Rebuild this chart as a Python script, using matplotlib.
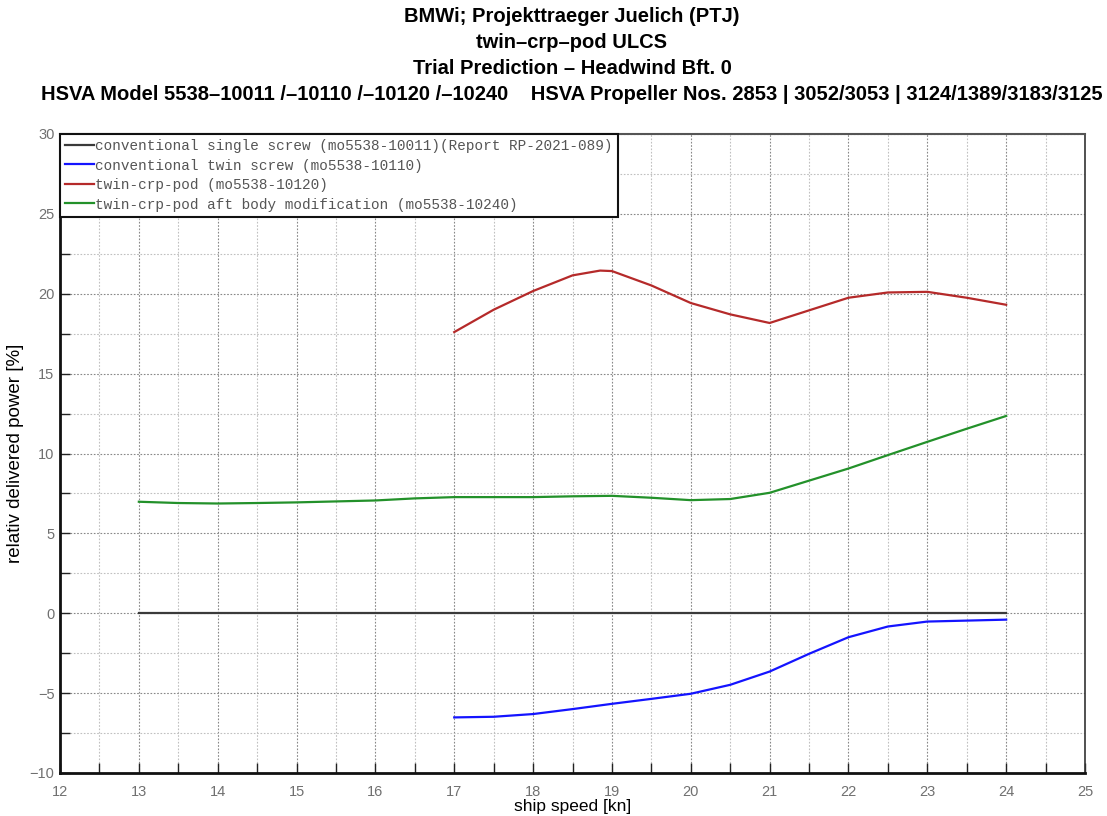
import numpy as np
import matplotlib
matplotlib.use("Agg")
import matplotlib.pyplot as plt
from matplotlib.ticker import MultipleLocator

# half-knot steps
speed_single = [13, 14, 15, 16, 17, 18, 19, 20, 21, 22, 23, 24]
power_single = [0, 0, 0, 0, 0, 0, 0, 0, 0, 0, 0, 0]

speed_twin = [17, 17.5, 18, 18.5, 19, 19.5, 20, 20.5, 21, 21.5, 22, 22.5, 23, 23.5, 24]
power_twin = [-6.52, -6.48, -6.31, -6.0, -5.67, -5.36, -5.04, -4.48, -3.65, -2.54,
              -1.5, -0.83, -0.52, -0.46, -0.4]

speed_pod = [17, 17.5, 18, 18.5, 18.85, 19, 19.5, 20, 20.5, 21, 21.5, 22, 22.5, 23, 23.5, 24]
power_pod = [17.6, 19.0, 20.17, 21.15, 21.45, 21.42, 20.52, 19.42, 18.71, 18.17,
             18.96, 19.75, 20.08, 20.12, 19.75, 19.31]

speed_aft = [13, 13.5, 14, 14.5, 15, 15.5, 16, 16.5, 17, 17.5, 18, 18.5, 19, 19.5,
             20, 20.5, 21, 21.5, 22, 22.5, 23, 23.5, 24]
power_aft = [6.98, 6.9, 6.87, 6.9, 6.94, 7.0, 7.06, 7.19, 7.27, 7.27, 7.27, 7.32, 7.35,
             7.23, 7.08, 7.15, 7.54, 8.3, 9.06, 9.9, 10.73, 11.55, 12.35]

labels = [
    "conventional single screw (mo5538-10011)(Report RP-2021-089)",
    "conventional twin screw (mo5538-10110)",
    "twin-crp-pod (mo5538-10120)",
    "twin-crp-pod aft body modification (mo5538-10240)",
]

title_lines = [
    "BMWi; Projekttraeger Juelich (PTJ)",
    "twin\u2013crp\u2013pod ULCS",
    "Trial Prediction \u2013 Headwind Bft. 0",
    "HSVA Model 5538\u201310011 /\u201310110 /\u201310120 /\u201310240    "
    "HSVA Propeller Nos. 2853 | 3052/3053 | 3124/1389/3183/3125",
]

sans = ["Liberation Sans", "DejaVu Sans"]

fig = plt.figure(figsize=(11.07, 8.16), dpi=100)
ax = fig.add_axes([60 / 1107, 1 - 773 / 816, 1025 / 1107, 639 / 816])

ax.plot(speed_single, power_single, color="#3a3a3a", lw=1.6, label=labels[0])
ax.plot(speed_twin, power_twin, color="#1414ff", lw=1.6, label=labels[1])
ax.plot(speed_pod, power_pod, color="#b52a2a", lw=1.6, label=labels[2])
ax.plot(speed_aft, power_aft, color="#23912a", lw=1.6, label=labels[3])

ax.set_xlim(12, 25)
ax.set_ylim(-10, 30)
ax.xaxis.set_major_locator(MultipleLocator(1))
ax.xaxis.set_minor_locator(MultipleLocator(0.5))
ax.yaxis.set_major_locator(MultipleLocator(5))
ax.yaxis.set_minor_locator(MultipleLocator(2.5))

ax.grid(which="major", color="#888888", linestyle=(0, (1.5, 1.5)), linewidth=0.8)
ax.grid(which="minor", color="#c0c0c0", linestyle=(0, (1.5, 1.5)), linewidth=0.8)
ax.set_axisbelow(True)

ax.tick_params(which="both", direction="in", length=7, width=1, color="#222222",
               labelcolor="#707070", labelsize=10.5, top=False, right=False)
ax.tick_params(axis="x", pad=9)
ax.tick_params(axis="y", pad=4)
for lab in ax.get_xticklabels() + ax.get_yticklabels():
    lab.set_family(sans)

for side in ["left", "bottom"]:
    ax.spines[side].set_linewidth(2)
    ax.spines[side].set_color("#111111")
ax.spines["top"].set_linewidth(1.5)
ax.spines["top"].set_color("#555555")
ax.spines["right"].set_linewidth(1.2)
ax.spines["right"].set_color("#333333")

ax.set_xlabel("ship speed [kn]", fontsize=12.5, family=sans, labelpad=0)
ax.set_ylabel("relativ delivered power [%]", fontsize=13.5, family=sans, labelpad=4)

leg = ax.legend(loc="upper left", bbox_to_anchor=(0, 1), borderaxespad=0,
                prop={"family": ["Liberation Mono", "DejaVu Sans Mono"], "size": 10.4},
                fancybox=False, framealpha=1, edgecolor="#111111", handlelength=2.0,
                handletextpad=0.1, labelspacing=0.38, borderpad=0.35)
leg.get_frame().set_linewidth(1.5)
for t in leg.get_texts():
    t.set_color("#555555")

ys = [17, 43, 69, 95]
for line, y in zip(title_lines, ys):
    fig.text(572 / 1107, 1 - y / 816, line, ha="center", va="center", fontsize=14.5,
             fontweight="bold", family=sans)

fig.savefig("out.png", dpi=100)
plt.close(fig)
